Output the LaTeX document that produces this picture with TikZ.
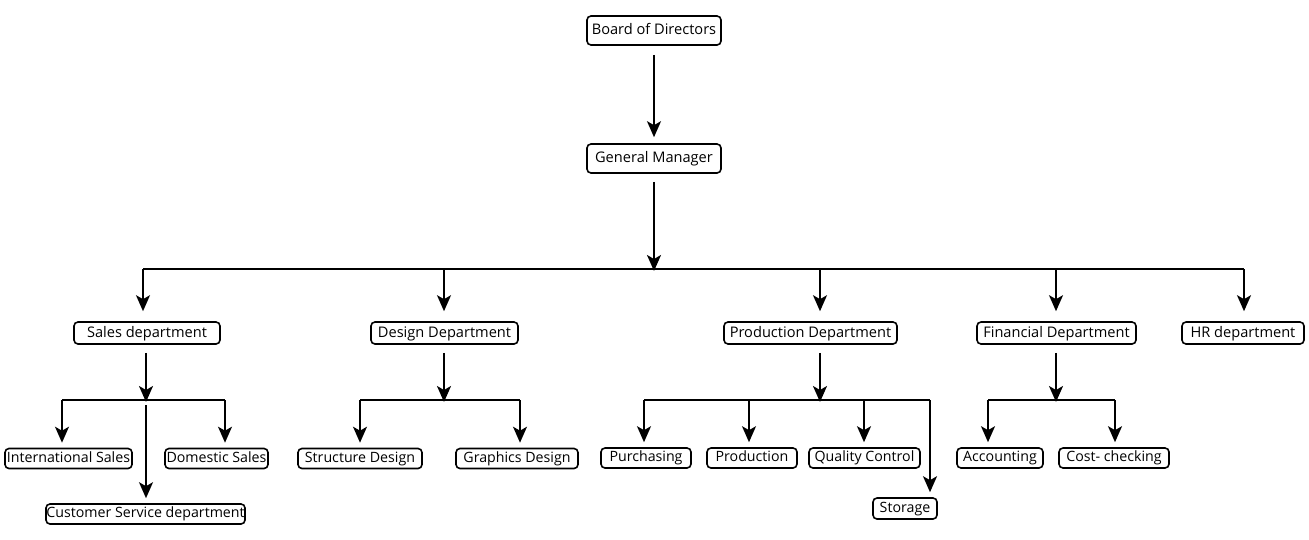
\documentclass[tikz,border=0pt]{standalone}
\usepackage{fontspec}
\setmainfont{Open Sans}
\usetikzlibrary{arrows.meta}
\begin{document}
\begin{tikzpicture}[x=1pt,y=-1pt,
  box/.style={draw,line width=1.6pt,rounded corners=4pt,inner sep=0pt,minimum height=22pt,text height=10.5pt,text depth=2.5pt,font=\fontsize{14.6}{16}\selectfont},
  sbox/.style={box,minimum height=20pt,text height=10pt,text depth=2.5pt,font=\fontsize{14.2}{15}\selectfont},
  conn/.style={line width=1.8pt},
  arr/.style={conn,-{Stealth[length=16pt,width=14pt,inset=4pt]}}]
\useasboundingbox (0,0) rectangle (1309,539);
% top
\node[box,minimum width=134pt,minimum height=29pt] (board) at (654,30.5) {Board of Directors};
\node[box,minimum width=134pt,minimum height=29pt] (gm) at (654,158.5) {General Manager};
% level 2
\node[box,minimum width=146pt] (sales) at (147,333) {Sales department};
\node[box,minimum width=147pt] (design) at (444.5,333) {Design Department};
\node[box,minimum width=173pt] (prod) at (810.5,333) {Production Department};
\node[box,minimum width=159pt] (fin) at (1056.5,333) {Financial Department};
\node[box,minimum width=122pt] (hr) at (1243,333) {HR department};
% level 3
\node[sbox,minimum width=127pt] (intl) at (68.5,458.5) {International Sales};
\node[sbox,minimum width=103pt] (dom) at (216.5,458.5) {Domestic Sales};
\node[sbox,minimum width=199pt] (cust) at (145.5,514) {Customer Service department};
\node[sbox,minimum width=124pt] (struct) at (360,458.5) {Structure Design};
\node[sbox,minimum width=122pt] (graph) at (517,458.5) {Graphics Design};
\node[sbox,minimum width=90pt] (purch) at (646,458) {Purchasing};
\node[sbox,minimum width=90pt] (produ) at (752,458) {Production};
\node[sbox,minimum width=111pt] (qc) at (864.5,458) {Quality Control};
\node[sbox,minimum width=64pt,minimum height=21pt] (stor) at (905,508.5) {Storage};
\node[sbox,minimum width=86pt] (acc) at (1000,458) {Accounting};
\node[sbox,minimum width=110pt] (cost) at (1114,458) {Cost- checking};
% bus points
\coordinate (bus) at (654,269);
\coordinate (sbus) at (146,400);
\coordinate (dbus) at (444,400);
\coordinate (pbus) at (820,400);
\coordinate (fbus) at (1056,400);
% connectors
\draw[arr,shorten <=9pt,shorten >=6pt] (board) -- (gm);
\draw[arr,shorten <=8pt,shorten >=0pt] (gm.south) -- ([yshift=-2pt]bus);
\draw[conn] (143,269) -- (1244,269);
\draw[arr,shorten >=10pt] (143,269) -- (sales.north -| 143,0);
\draw[arr,shorten >=10pt] (444,269) -- (design.north -| 444,0);
\draw[arr,shorten >=10pt] (820,269) -- (prod.north -| 820,0);
\draw[arr,shorten >=10pt] (1056,269) -- (fin.north -| 1056,0);
\draw[arr,shorten >=10pt] (1244,269) -- (hr.north -| 1244,0);
% sales
\draw[arr,shorten <=8pt] (sales.south -| sbus) -- ([yshift=-2pt]sbus);
\draw[conn] (62,400) -- (225,400);
\draw[arr,shorten >=5pt] (62,400) -- (intl.north -| 62,0);
\draw[arr,shorten >=5pt] (225,400) -- (dom.north -| 225,0);
\draw[arr,shorten <=5pt,shorten >=5pt] (sbus) -- (cust.north -| sbus);
% design
\draw[arr,shorten <=8pt] (design.south -| dbus) -- ([yshift=-2pt]dbus);
\draw[conn] (360,400) -- (520,400);
\draw[arr,shorten >=5pt] (360,400) -- (struct.north -| 360,0);
\draw[arr,shorten >=5pt] (520,400) -- (graph.north -| 520,0);
% production
\draw[arr,shorten <=8pt] (prod.south -| pbus) -- ([yshift=-2pt]pbus);
\draw[conn] (644,400) -- (930,400);
\draw[arr,shorten >=5pt] (644,400) -- (purch.north -| 644,0);
\draw[arr,shorten >=5pt] (749,400) -- (produ.north -| 749,0);
\draw[arr,shorten >=5pt] (864,400) -- (qc.north -| 864,0);
\draw[arr,shorten >=5pt] (930,400) -- (stor.north -| 930,0);
% financial
\draw[arr,shorten <=8pt] (fin.south -| fbus) -- ([yshift=-2pt]fbus);
\draw[conn] (988,400) -- (1115,400);
\draw[arr,shorten >=5pt] (988,400) -- (acc.north -| 988,0);
\draw[arr,shorten >=5pt] (1115,400) -- (cost.north -| 1115,0);
\end{tikzpicture}
\end{document}
